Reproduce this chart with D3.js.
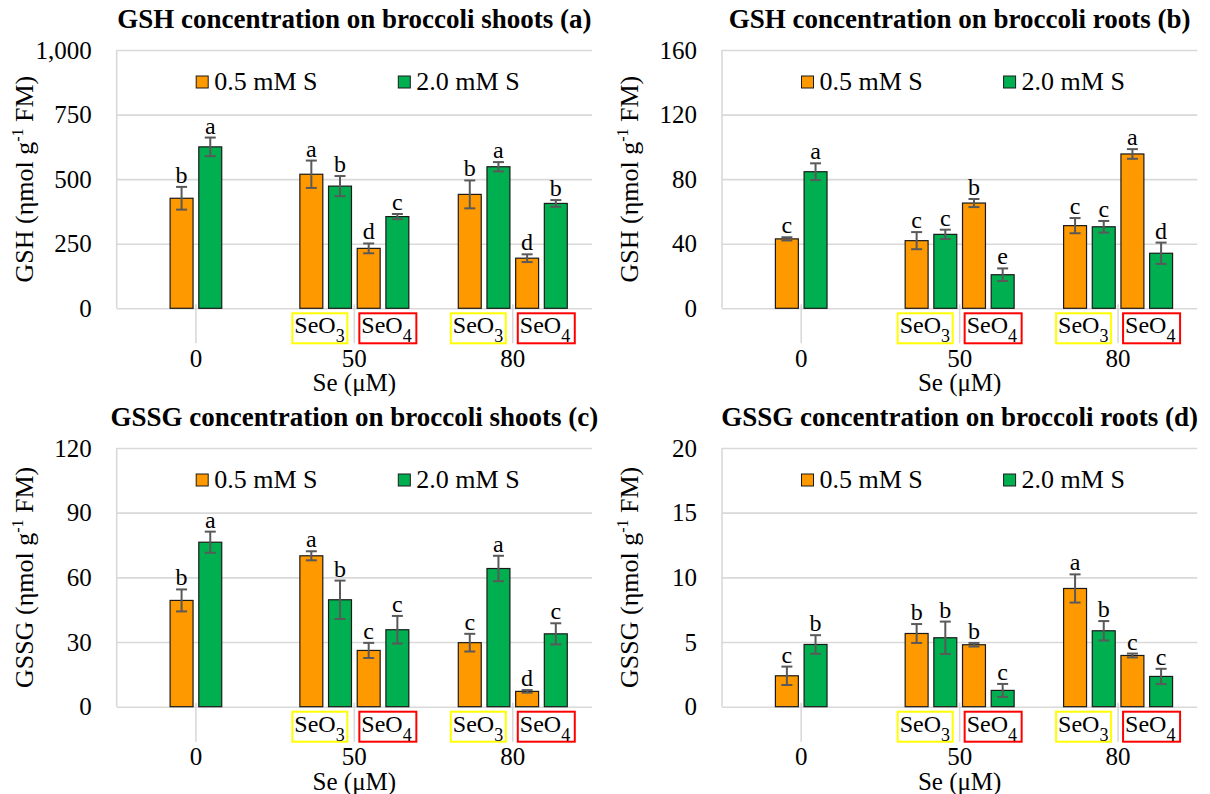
<!DOCTYPE html>
<html>
<head>
<meta charset="utf-8">
<script src="https://cdn.jsdelivr.net/npm/d3@7"></script>
<style>
  body { margin: 0; background: #fff; }
  svg text { font-family: "Liberation Serif", "Times New Roman", Times, serif; fill: #000; }
</style>
</head>
<body>
<svg id="chart" width="1210" height="794"></svg>
<script>
const serifFont = '"Liberation Serif", "Times New Roman", Times, serif';

// Se treatment levels on the category axis and the Se forms inside each level
const seLevels = ["0", "50", "80"];
const seForms = [[""], ["SeO3", "SeO4"], ["SeO3", "SeO4"]];
const seriesNames = ["0.5 mM S", "2.0 mM S"];
const seriesColors = ["#FF9900", "#00B050"];

// Bar order in every panel: control, 50 SeO3, 50 SeO4, 80 SeO3, 80 SeO4
// (a) GSH, shoots
const gshShootLow = [426, 519, 232, 441, 194];
const gshShootLowErr = [44, 53, 19, 54, 15];
const gshShootLowSig = ["b", "a", "d", "b", "d"];
const gshShootHigh = [625, 473, 355, 548, 406];
const gshShootHighErr = [36, 39, 10, 18, 13];
const gshShootHighSig = ["a", "b", "c", "a", "b"];

// (b) GSH, roots
const gshRootLow = [43, 41.9, 65.2, 51.2, 95.6];
const gshRootLowErr = [1, 5.3, 2.5, 4.7, 3];
const gshRootLowSig = ["c", "c", "b", "c", "a"];
const gshRootHigh = [84.6, 45.8, 20.8, 50.5, 34.1];
const gshRootHighErr = [5.2, 2.9, 3.9, 3.6, 6.6];
const gshRootHighSig = ["a", "c", "e", "c", "d"];

// (c) GSSG, shoots
const gssgShootLow = [49.3, 70.0, 26.1, 29.7, 7.1];
const gssgShootLowErr = [5.1, 2.1, 3.5, 4.1, 0.6];
const gssgShootLowSig = ["b", "a", "c", "c", "d"];
const gssgShootHigh = [76.3, 49.6, 35.7, 64.1, 33.8];
const gssgShootHighErr = [4.9, 8.9, 6.4, 5.9, 4.9];
const gssgShootHighSig = ["a", "b", "c", "a", "c"];

// (d) GSSG, roots
const gssgRootLow = [2.39, 5.66, 4.79, 9.14, 3.96];
const gssgRootLowErr = [0.71, 0.73, 0.14, 1.09, 0.15];
const gssgRootLowSig = ["c", "b", "b", "a", "c"];
const gssgRootHigh = [4.81, 5.33, 1.26, 5.87, 2.34];
const gssgRootHighErr = [0.72, 1.25, 0.5, 0.75, 0.59];
const gssgRootHighSig = ["b", "b", "c", "b", "c"];

// y-axis tick values
const ticksGshShoot = [0, 250, 500, 750, 1000];
const ticksGshRoot = [0, 40, 80, 120, 160];
const ticksGssgShoot = [0, 30, 60, 90, 120];
const ticksGssgRoot = [0, 5, 10, 15, 20];

const panels = [
  { title: "GSH concentration on broccoli shoots (a)", yName: "GSH", ticks: ticksGshShoot,
    vals: [gshShootLow, gshShootHigh], errs: [gshShootLowErr, gshShootHighErr], sigs: [gshShootLowSig, gshShootHighSig],
    left: 116.7, top: 50, bottom: 308.3 },
  { title: "GSH concentration on broccoli roots (b)", yName: "GSH", ticks: ticksGshRoot,
    vals: [gshRootLow, gshRootHigh], errs: [gshRootLowErr, gshRootHighErr], sigs: [gshRootLowSig, gshRootHighSig],
    left: 722, top: 50, bottom: 308.3 },
  { title: "GSSG concentration on broccoli shoots (c)", yName: "GSSG", ticks: ticksGssgShoot,
    vals: [gssgShootLow, gssgShootHigh], errs: [gssgShootLowErr, gssgShootHighErr], sigs: [gssgShootLowSig, gssgShootHighSig],
    left: 116.7, top: 448, bottom: 706.7 },
  { title: "GSSG concentration on broccoli roots (d)", yName: "GSSG", ticks: ticksGssgRoot,
    vals: [gssgRootLow, gssgRootHigh], errs: [gssgRootLowErr, gssgRootHighErr], sigs: [gssgRootLowSig, gssgRootHighSig],
    left: 722, top: 448, bottom: 706.7 }
];

const plotW = 475.3;
const gridColor = "#d9d9d9";
const svg = d3.select("#chart").style("font-family", serifFont);

// position of each bar entry: which Se level and which form inside it
const entries = [];
seForms.forEach((forms, li) => forms.forEach((f, si) => entries.push({ level: li, sub: si, form: f })));

function subscriptLabel(sel, form) {
  const t = sel.append("text").attr("font-size", 24).style("font-family", serifFont);
  t.append("tspan").text(form.slice(0, 3));
  t.append("tspan").attr("font-size", 18).attr("dy", 9).text(form.slice(3));
  return t;
}

panels.forEach(p => {
  const g = svg.append("g").style("font-family", serifFont);
  const right = p.left + plotW;
  const x0 = d3.scaleBand().domain(seLevels).range([p.left, right]).padding(0);
  const y = d3.scaleLinear().domain([0, d3.max(p.ticks)]).range([p.bottom, p.top]);
  const step = x0.bandwidth() * 0.181;

  // gridlines and y tick labels
  const yAxis = g.append("g")
    .attr("transform", `translate(${p.left},0)`)
    .call(d3.axisLeft(y).tickValues(p.ticks).tickSize(-plotW).tickPadding(25).tickFormat(d3.format(",")));
  yAxis.attr("font-family", null).style("font-family", serifFont);
  yAxis.select(".domain").remove();
  yAxis.selectAll("line").attr("stroke", gridColor).attr("stroke-width", 1.6);
  yAxis.selectAll("text").attr("font-size", 25).style("font-family", serifFont);

  // left frame edge
  g.append("line").attr("x1", p.left).attr("x2", p.left).attr("y1", y(d3.max(p.ticks))).attr("y2", p.bottom)
    .attr("stroke", gridColor).attr("stroke-width", 1.6);

  // category separators under the axis
  seLevels.forEach(lv => {
    const cx = x0(lv) + x0.bandwidth() / 2;
    g.append("line").attr("x1", cx).attr("x2", cx).attr("y1", p.bottom - 4).attr("y2", p.bottom + 35)
      .attr("stroke", gridColor).attr("stroke-width", 1.6);
  });

  // category labels
  const xAxis = g.append("g")
    .attr("transform", `translate(0,${p.bottom})`)
    .call(d3.axisBottom(x0).tickSize(0).tickPadding(41));
  xAxis.attr("font-family", null).style("font-family", serifFont);
  xAxis.select(".domain").remove();
  xAxis.selectAll("text").attr("font-size", 25).style("font-family", serifFont);

  g.append("text").attr("x", p.left + plotW / 2).attr("y", p.bottom + 83).attr("text-anchor", "middle")
    .attr("font-size", 25).style("font-family", serifFont).text("Se (μM)");

  // bars, error bars and letters
  entries.forEach((e, i) => {
    const lv = seLevels[e.level];
    const cx = x0(lv) + x0.bandwidth() / 2;
    const nBars = seForms[e.level].length * 2;
    const xi = d3.scaleBand().domain(d3.range(nBars))
      .range([cx - nBars * step / 2, cx + nBars * step / 2]).paddingInner(0.2).paddingOuter(0.1);
    [0, 1].forEach(s => {
      const v = p.vals[s][i], er = p.errs[s][i];
      const bx = xi(e.sub * 2 + s), bw = xi.bandwidth(), mx = bx + bw / 2;
      g.append("rect").attr("x", bx).attr("y", y(v)).attr("width", bw).attr("height", y(0) - y(v))
        .attr("fill", seriesColors[s]).attr("stroke", "#1a1a1a").attr("stroke-width", 1.2);
      const eg = g.append("g").attr("stroke", "#595959").attr("stroke-width", 2);
      eg.append("line").attr("x1", mx).attr("x2", mx).attr("y1", y(v + er)).attr("y2", y(v - er));
      eg.append("line").attr("x1", mx - 5.5).attr("x2", mx + 5.5).attr("y1", y(v + er)).attr("y2", y(v + er));
      eg.append("line").attr("x1", mx - 5.5).attr("x2", mx + 5.5).attr("y1", y(v - er)).attr("y2", y(v - er));
      g.append("text").attr("x", mx).attr("y", y(v + er) - 4).attr("text-anchor", "middle")
        .attr("font-size", 24).style("font-family", serifFont).text(p.sigs[s][i]);
    });
  });

  // Se form boxes under the 50 and 80 groups
  seLevels.forEach((lv, li) => {
    if (seForms[li].length < 2) return;
    const cx = x0(lv) + x0.bandwidth() / 2;
    const boxes = [
      { form: seForms[li][0], x: cx - 6 - 57, w: 57, color: "#FFFF00" },
      { form: seForms[li][1], x: cx + 4, w: 59, color: "#FF0000" }
    ];
    boxes.forEach(b => {
      g.append("rect").attr("x", b.x + 1).attr("y", p.bottom + 5).attr("width", b.w - 2).attr("height", 30)
        .attr("fill", "#fff").attr("stroke", b.color).attr("stroke-width", 2);
      subscriptLabel(g, b.form).attr("x", b.x + 3).attr("y", p.bottom + 25);
    });
  });

  // legend
  seriesNames.forEach((n, s) => {
    const lx = p.left + (s === 0 ? 79.5 : 281.6);
    g.append("rect").attr("x", lx).attr("y", p.top + 26).attr("width", 12).attr("height", 12)
      .attr("fill", seriesColors[s]).attr("stroke", "#1a1a1a").attr("stroke-width", 1);
    g.append("text").attr("x", lx + 18).attr("y", p.top + 40).attr("font-size", 26)
      .style("font-family", serifFont).text(n);
  });

  // title
  g.append("text").attr("x", p.left + plotW / 2).attr("y", p.top - 22).attr("text-anchor", "middle")
    .attr("font-size", 27).attr("font-weight", "bold").style("font-family", serifFont).text(p.title);

  // y-axis title with superscript
  const yt = g.append("text")
    .attr("transform", `translate(${p.left - 84},${(p.top + p.bottom) / 2}) rotate(-90)`)
    .attr("text-anchor", "middle").attr("font-size", 26).style("font-family", serifFont);
  yt.append("tspan").text(p.yName + " (ηmol g");
  yt.append("tspan").attr("font-size", 16).attr("dy", -10).text("-1");
  yt.append("tspan").attr("dy", 10).text(" FM)");
});
</script>
</body>
</html>
